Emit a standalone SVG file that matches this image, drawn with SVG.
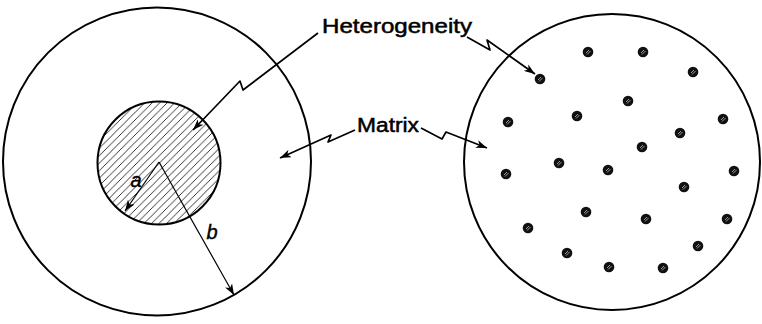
<svg xmlns="http://www.w3.org/2000/svg" width="762" height="324" viewBox="0 0 762 324">
<style>
.circ{fill:none;stroke:#000;stroke-width:2}
.lead{fill:none;stroke:#000;stroke-width:1.7;stroke-linejoin:round;marker-end:url(#arr)}
.dim{fill:none;stroke:#000;stroke-width:1.2;marker-end:url(#arr)}
.lbl{font-family:"Liberation Sans","DejaVu Sans",sans-serif;font-size:20px;fill:#000;stroke:#000;stroke-width:0.5}
.var{font-family:"Liberation Sans","DejaVu Sans",sans-serif;font-style:italic;font-size:20px;fill:#000;stroke:#000;stroke-width:0.4;text-anchor:middle}
</style>
<defs>
<pattern id="hatch" patternUnits="userSpaceOnUse" width="7.5" height="7.5">
<path d="M-1,8.5 L8.5,-1 M-1,1 L1,-1 M6.5,8.5 L8.5,6.5" stroke="#000" stroke-width="0.8"/>
</pattern>
<marker id="arr" markerUnits="userSpaceOnUse" markerWidth="11" markerHeight="8" refX="11" refY="4" orient="auto">
<path d="M0,0 L11,4 L0,8 L3,4 z" fill="#000"/>
</marker>
<g id="dot">
<circle r="5.3" fill="#111"/>
<path d="M-2,1 L1,-2 M-1,2.5 L2.5,-1" stroke="#fff" stroke-width="0.6"/>
</g>
</defs>

<g id="left-matrix">
<circle class="circ" cx="157" cy="161.5" r="154"/>
</g>
<g id="left-heterogeneity">
<circle cx="159" cy="163" r="61.5" fill="url(#hatch)" stroke="#000" stroke-width="2"/>
</g>
<g id="right-matrix">
<circle class="circ" cx="612" cy="162" r="148"/>
</g>
<g id="right-heterogeneities">
<use href="#dot" x="588" y="52"/>
<use href="#dot" x="643" y="52"/>
<use href="#dot" x="693" y="72"/>
<use href="#dot" x="540" y="79"/>
<use href="#dot" x="628" y="101"/>
<use href="#dot" x="508" y="122"/>
<use href="#dot" x="577" y="116"/>
<use href="#dot" x="723" y="119"/>
<use href="#dot" x="680" y="133"/>
<use href="#dot" x="642" y="147"/>
<use href="#dot" x="559" y="163"/>
<use href="#dot" x="506" y="174"/>
<use href="#dot" x="608" y="170"/>
<use href="#dot" x="734" y="171"/>
<use href="#dot" x="684" y="187"/>
<use href="#dot" x="586" y="212"/>
<use href="#dot" x="646" y="219"/>
<use href="#dot" x="727" y="219"/>
<use href="#dot" x="528" y="228"/>
<use href="#dot" x="698" y="246"/>
<use href="#dot" x="567" y="253"/>
<use href="#dot" x="609" y="267"/>
<use href="#dot" x="663" y="268"/>
</g>

<g id="labels">
<text class="lbl" x="322" y="33" textLength="150" lengthAdjust="spacingAndGlyphs">Heterogeneity</text>
<text class="lbl" x="357" y="132" textLength="62" lengthAdjust="spacingAndGlyphs">Matrix</text>
<text class="var" x="136" y="187">a</text>
<text class="var" x="212" y="239">b</text>
</g>

<g id="connectors">
<path class="lead" d="M318,33 L243,90 L240,81 L193,130"/>
<path class="lead" d="M467,37 L490,50 L487,40 L535,74"/>
<path class="lead" d="M355,130 L328,142 L331,135 L280,158"/>
<path class="lead" d="M421,128 L442,139 L446,132 L487,148"/>
<path class="dim" d="M159,162 L125,211"/>
<path class="dim" d="M159,162 L234,295"/>
</g>
</svg>
